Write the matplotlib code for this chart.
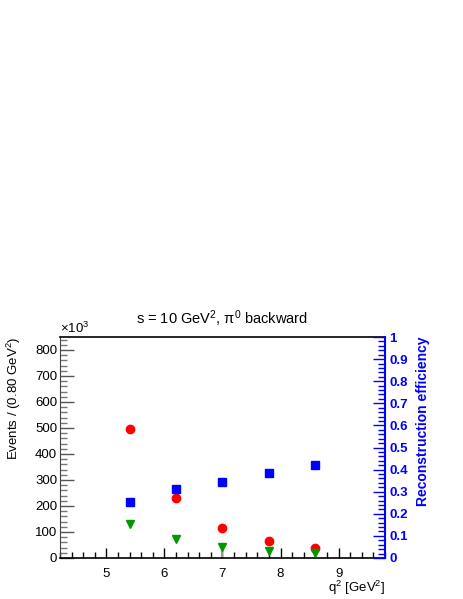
import matplotlib
matplotlib.use("Agg")
import matplotlib.pyplot as plt
from matplotlib.ticker import MultipleLocator

plt.rcParams['font.family'] = ['Liberation Sans', 'DejaVu Sans']
plt.rcParams['mathtext.fontset'] = 'custom'
plt.rcParams['mathtext.rm'] = 'Liberation Sans'
plt.rcParams['mathtext.it'] = 'Liberation Sans:italic'

# bin centres in q^2 [GeV^2]
q2 = [5.4, 6.2, 7.0, 7.8, 8.6]
# events (x10^3)
events_red = [497, 230, 117, 65, 37]
events_green = [130, 74, 43, 27, 18]
green_err_lo = [0, 0, 43, 0, 0]
green_err_hi = [0, 0, 0, 0, 0]
# reconstruction efficiency
efficiency = [0.255, 0.312, 0.343, 0.385, 0.419]

W, H = 463, 599
fig = plt.figure(figsize=(W / 100, H / 100), dpi=100)
x0, x1, y0, y1 = 60, 385, 337, 558
ax = fig.add_axes([x0 / W, 1 - y1 / H, (x1 - x0) / W, (y1 - y0) / H])

ax.errorbar(q2, events_green, yerr=[green_err_lo, green_err_hi], fmt='none',
            ecolor='#999999', lw=1.5, zorder=2)
ax.plot(q2, events_red, 'o', color='red', ms=6, mec='red', zorder=3)
ax.plot(q2, events_green, 'v', color='#009900', ms=5.5, mec='#009900', zorder=3)

ax.set_xlim(4.2, 9.8)
ax.set_ylim(0, 850)
ax.xaxis.set_major_locator(MultipleLocator(1))
ax.xaxis.set_minor_locator(MultipleLocator(0.2))
ax.yaxis.set_major_locator(MultipleLocator(100))
ax.yaxis.set_minor_locator(MultipleLocator(20))
ax.tick_params(axis='x', which='major', direction='in', length=7, width=1, labelsize=9.5, pad=7)
ax.tick_params(axis='x', which='minor', direction='in', length=4, width=1)
ax.tick_params(axis='y', which='major', direction='in', length=10, width=1, labelsize=9.5, pad=2,
               color='#555555')
ax.tick_params(axis='y', which='minor', direction='in', length=5, width=1, color='#777777')
ax.tick_params(top=False, right=False, which='both')
for s in ['top', 'bottom']:
    ax.spines[s].set_linewidth(1.2)
ax.spines['left'].set_color('#444444')
ax.spines['right'].set_visible(False)

ax.set_ylabel('Events / (0.80 GeV$^{2}$)', fontsize=9.5)
ax.yaxis.set_label_coords(-0.115, 1.0)
ax.yaxis.label.set_ha('right')
ax.set_xlabel('q$^{2}$ [GeV$^{2}$]', fontsize=9.5, ha='right')
ax.xaxis.set_label_coords(1.0, -0.095)
ax.text(0.0, 1.005, r'$\times$10$^{3}$', transform=ax.transAxes, fontsize=9.5,
        ha='left', va='bottom')

ax2 = ax.twinx()
ax2.plot(q2, efficiency, 's', color='blue', ms=6, mec='blue', zorder=3)
ax2.set_ylim(0, 1)
ax2.yaxis.set_minor_locator(MultipleLocator(0.02))
ax2.set_yticks([0, 0.1, 0.2, 0.3, 0.4, 0.5, 0.6, 0.7, 0.8, 0.9, 1.0])
ax2.set_yticklabels(['0', '0.1', '0.2', '0.3', '0.4', '0.5', '0.6', '0.7', '0.8', '0.9', '1'])
ax2.tick_params(axis='y', which='major', direction='in', length=9, width=1, colors='blue',
                labelsize=9.5, pad=3)
for lab in ax2.get_yticklabels():
    lab.set_fontweight('bold')
ax2.tick_params(axis='y', which='minor', direction='in', length=5, width=1, color='blue')
ax2.spines['right'].set_color('blue')
ax2.spines['right'].set_linewidth(1.5)
for s in ['top', 'left', 'bottom']:
    ax2.spines[s].set_visible(False)
ax2.set_ylabel('Reconstruction efficiency', color='blue', fontsize=10, fontweight='bold')
ax2.yaxis.set_label_coords(1.095, 1.0)
ax2.yaxis.label.set_ha('right')

fig.text((x0 + x1) / 2 / W, 1 - 319 / H, r's = 10 GeV$^{2}$, π$^{0}$ backward',
         fontsize=10.5, ha='center', va='center')

fig.savefig('out.png', dpi=100)
